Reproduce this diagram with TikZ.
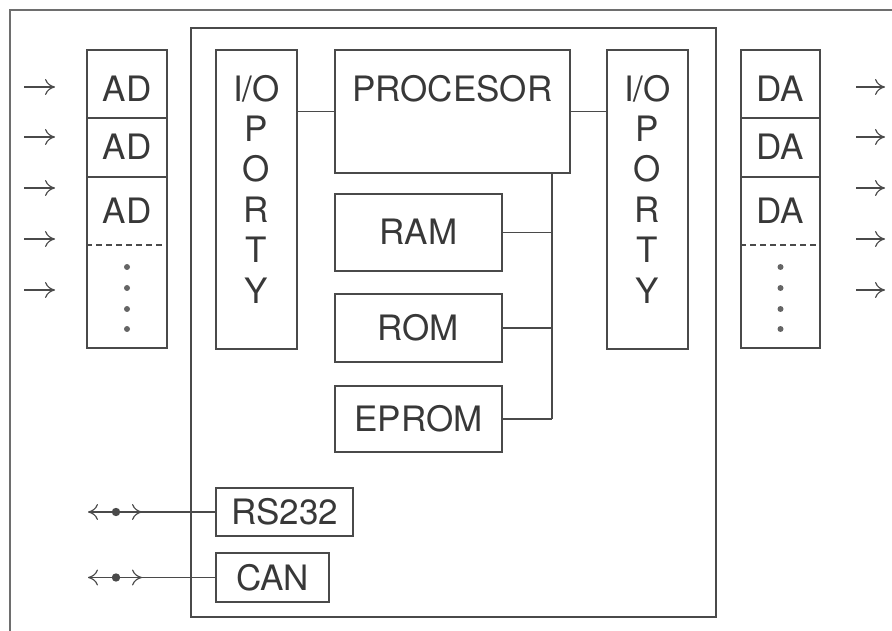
\documentclass[tikz,border=0pt]{standalone}
\usepackage{fontspec}
\setsansfont{TeX Gyre Heros}
\usetikzlibrary{arrows.meta, positioning}
\definecolor{grafit}{HTML}{4A4A4A}
\definecolor{tusz}{HTML}{383838}
\tikzset{
  every picture/.style={font=\sffamily},
  grot/.tip={To[length=10pt, width=16pt]},
  blok/.style={draw=grafit, line width=1.4pt, inner sep=0pt, anchor=center},
  napis/.style={text=tusz, inner sep=0pt, font=\sffamily\fontsize{35}{40.4}\selectfont},
  srodek/.style={text height=25pt, text depth=0pt},
  strzalka/.style={-grot, grafit, line width=1.2pt},
  szyna/.style={grafit, line width=1.4pt},
  kreska/.style={grafit, line width=1.3pt, dash pattern=on 6pt off 4pt},
}
\begin{document}
\begin{tikzpicture}[x=1pt, y=-1pt]
  \useasboundingbox (0,0) rectangle (892,631);
  % ramka zewnetrzna
  \draw[szyna, line width=1.1pt, grafit!80] (10,631) -- (10,10) -- (892,10);
  % sterownik
  \node[blok, minimum width=525pt, minimum height=589pt] (ster) at (453.5,322.5) {};
  \node[blok, minimum width=81pt, minimum height=299pt] (ioL) at (256.5,199.5) {};
  \node[blok, minimum width=81pt, minimum height=299pt] (ioR) at (647.5,199.5) {};
  \node[napis, align=center] (ioLt) at (256.5,189) {I/O\\P\\O\\R\\T\\Y};
  \node[napis, align=center] (ioRt) at (647.5,189) {I/O\\P\\O\\R\\T\\Y};
  \node[blok, minimum width=235pt, minimum height=123pt] (proc) at (452.5,111.5) {};
  \node[napis, srodek] (proct) at (452.5,89.5) {PROCESOR};
  \node[blok, napis, srodek, minimum width=167pt, minimum height=77pt] (ram) at (418.5,232.5) {RAM};
  \node[blok, napis, srodek, minimum width=167pt, minimum height=68pt] (rom) at (418.5,328) {ROM};
  \node[blok, napis, srodek, minimum width=167pt, minimum height=66pt] (eprom) at (418.5,419) {EPROM};
  \node[blok, napis, srodek, minimum width=137pt, minimum height=48pt] (rs) at (284.5,512) {RS232};
  \node[blok, napis, srodek, minimum width=113pt, minimum height=49pt] (can) at (272.5,577.5) {CAN};
  % polaczenia
  \draw[szyna] (ioL.east |- proc.west) -- (proc.west);
  \draw[szyna] (proc.east) -- (ioR.west |- proc.east);
  \coordinate (bus) at (552,0);
  \draw[szyna] (proc.south -| bus) -- (eprom.east -| bus);
  \draw[szyna] (ram.east) -- (ram.east -| bus);
  \draw[szyna] (rom.east) -- (rom.east -| bus);
  \draw[szyna] (eprom.east) -- (eprom.east -| bus);
  % magistrale
  \coordinate (rsk) at (116,512);
  \coordinate (cank) at (116,577.5);
  \draw[szyna] (rsk) -- (rs.west);
  \draw[szyna] (cank) -- (can.west);
  \draw[strzalka, grot-grot] ([xshift=-28pt]rsk) -- ([xshift=26pt]rsk);
  \draw[strzalka, grot-grot] ([xshift=-28pt]cank) -- ([xshift=26pt]cank);
  \fill[grafit] (rsk) circle (4.2pt);
  \fill[grafit] (cank) circle (4.2pt);
  % przetworniki AD i DA
  \node[blok, minimum width=80pt, minimum height=298pt] (adk) at (127,199) {};
  \node[blok, minimum width=79pt, minimum height=298pt] (dak) at (780.5,199) {};
  \foreach \k in {adk, dak} {
    \draw[szyna] (\k.west |- 0,118) -- (\k.east |- 0,118);
    \draw[szyna] (\k.west |- 0,177) -- (\k.east |- 0,177);
    \draw[kreska] (\k.west |- 0,245) -- (\k.east |- 0,245);
    \foreach \y in {267,288,309,329}
      \fill[grafit!85] (\k.center |- 0,\y) circle (3pt);
  }
  \foreach \y [count=\i] in {89.5,147.5,211} {
    \node[napis, srodek] (ad\i) at (adk.center |- 0,\y) {AD};
    \node[napis, srodek] (da\i) at (dak.center |- 0,\y) {DA};
  }
  \foreach \y [count=\i] in {87,137,188,239,290} {
    \coordinate (we\i) at (24,\y);
    \coordinate (wy\i) at (856,\y);
    \draw[strzalka] (we\i) -- ++(31,0);
    \draw[strzalka] (wy\i) -- ++(29,0);
  }
\end{tikzpicture}
\end{document}
